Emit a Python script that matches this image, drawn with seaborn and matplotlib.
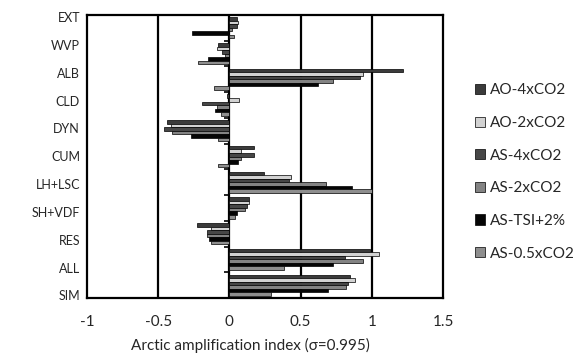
import numpy as np
import pandas as pd
import seaborn as sns
import matplotlib.pyplot as plt

# categories (top to bottom) and the six experiments
categories = ["EXT", "WVP", "ALB", "CLD", "DYN", "CUM", "LH+LSC", "SH+VDF", "RES", "ALL", "SIM"]
series = ["AO-4xCO2", "AO-2xCO2", "AS-4xCO2", "AS-2xCO2", "AS-TSI+2%", "AS-0.5xCO2"]

# values per series, one per category
ao_4x = [0.05, -0.08, 1.22, -0.02, -0.44, 0.17, 0.24, 0.14, -0.23, 0.99, 0.85]
ao_2x = [0.06, -0.09, 0.94, 0.07, -0.41, 0.08, 0.43, 0.135, -0.13, 1.05, 0.885]
as_4x = [0.05, -0.05, 0.92, -0.19, -0.46, 0.17, 0.42, 0.125, -0.16, 0.815, 0.835]
as_2x = [0.02, -0.03, 0.73, -0.09, -0.40, 0.08, 0.68, 0.11, -0.16, 0.94, 0.82]
as_tsi = [-0.26, -0.15, 0.62, -0.10, -0.27, 0.06, 0.86, 0.05, -0.14, 0.73, 0.69]
as_05x = [0.03, -0.22, -0.11, -0.06, -0.08, -0.08, 1.00, 0.04, -0.13, 0.38, 0.29]

xticks = [-1, -0.5, 0, 0.5, 1, 1.5]
xtick_labels = ["-1", "-0.5", "0", "0.5", "1", "1.5"]

colors = ["#3b3b3b", "#d2d2d2", "#474747", "#838383", "#050505", "#8e8e8e"]

df = pd.DataFrame({
    "cat": categories * 6,
    "series": np.repeat(series, len(categories)),
    "val": ao_4x + ao_2x + as_4x + as_2x + as_tsi + as_05x,
})

sns.set_style("white")
plt.rcParams["font.family"] = ["Lato", "DejaVu Sans"]

fig = plt.figure(figsize=(5.82, 3.53), dpi=100)
ax = fig.add_axes([87 / 582, 1 - 298 / 353, 356 / 582, 283 / 353])

sns.barplot(data=df, y="cat", x="val", hue="series", orient="h",
            order=categories, hue_order=series, palette=colors,
            edgecolor="black", linewidth=0.5, width=0.82,
            errorbar=None, ax=ax)

ax.set_xlim(-1, 1.5)
ax.set_ylim(len(categories) - 0.5, -0.5)

# vertical grid lines
for v in [-0.5, 0, 0.5, 1]:
    ax.axvline(v, color="black", lw=1.6, zorder=0.5)

# small category ticks on the zero line
ax.hlines(np.arange(len(categories) + 1) - 0.5, -0.035, 0, color="black", lw=1.2)

for s in ax.spines.values():
    s.set_visible(True)
    s.set_color("black")
    s.set_linewidth(1.6)

ax.set_xticks(xticks)
ax.set_xticklabels(xtick_labels, fontsize=11)
ax.tick_params(axis="x", length=0, pad=12)

# category labels sit a bit off the group centres, as in the source
ax.set_yticks([-0.42 + 1.082 * i for i in range(len(categories))])
ax.set_yticklabels(categories, fontsize=9)
ax.tick_params(axis="y", length=0, pad=5)

ax.set_ylabel("")
ax.set_xlabel("Arctic amplification index (\u03c3=0.995)", fontsize=11)
ax.xaxis.set_label_coords(0.46, -0.14)

handles, labels = ax.get_legend_handles_labels()
ax.legend_.remove()
fig.legend(handles, labels, loc="center left", bbox_to_anchor=(475 / 582, 1 - 172 / 353),
           frameon=False, fontsize=11, labelspacing=1.22, handlelength=0.65,
           handleheight=0.65, handletextpad=0.3, borderpad=0, borderaxespad=0)

fig.savefig("out.png", dpi=100)
